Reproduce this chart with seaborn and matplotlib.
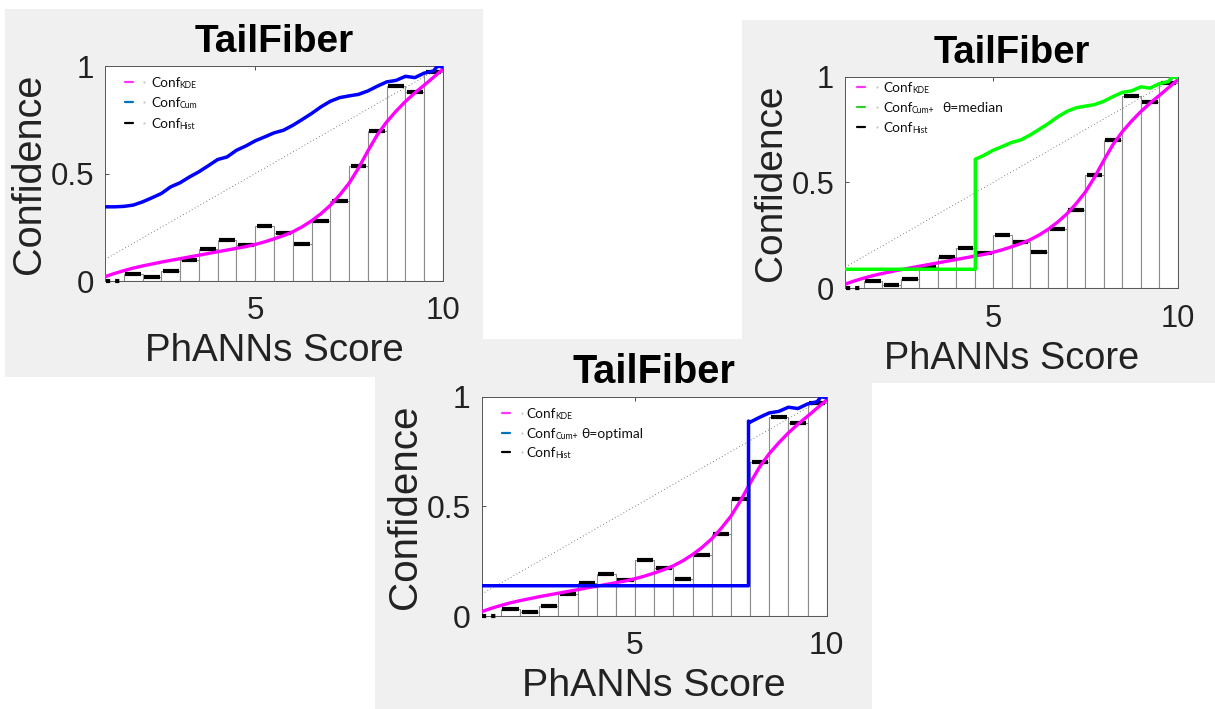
import numpy as np
import pandas as pd
import matplotlib
matplotlib.use("Agg")
import matplotlib.pyplot as plt
from matplotlib.patches import Rectangle
import seaborn as sns

# ---------------------------------------------------------------- data
# histogram of confidence per PhANNs-score bin (width 0.5, from 1 to 10)
bin_edges = np.arange(1.0, 10.001, 0.5)
hist_conf = [0.000, 0.033, 0.017, 0.046, 0.100, 0.150, 0.190, 0.166, 0.254,
             0.221, 0.170, 0.280, 0.372, 0.534, 0.700, 0.907, 0.881, 0.972]

# kernel-density based confidence
kde_score = [1.00, 1.25, 1.50, 1.75, 2.00, 2.25, 2.50, 2.75, 3.00, 3.25,
             3.50, 3.75, 4.00, 4.25, 4.50, 4.75, 5.00, 5.25, 5.50, 5.75,
             6.00, 6.25, 6.50, 6.75, 7.00, 7.25, 7.50, 7.75, 8.00, 8.25,
             8.50, 8.75, 9.00, 9.25, 9.50, 9.75, 10.00]
kde_conf = [0.020, 0.035, 0.048, 0.060, 0.070, 0.079, 0.088, 0.096, 0.104, 0.112,
            0.120, 0.128, 0.136, 0.144, 0.152, 0.160, 0.170, 0.182, 0.196, 0.211,
            0.229, 0.252, 0.280, 0.313, 0.352, 0.400, 0.455, 0.525, 0.605, 0.680,
            0.740, 0.790, 0.835, 0.875, 0.911, 0.948, 0.985]

# cumulative confidence
cum_score = [1.00, 1.25, 1.50, 1.75, 2.00, 2.25, 2.50, 2.75, 3.00, 3.25,
             3.50, 3.75, 4.00, 4.25, 4.50, 4.75, 5.00, 5.25, 5.50, 5.75,
             6.00, 6.25, 6.50, 6.75, 7.00, 7.25, 7.50, 7.75, 8.00, 8.25,
             8.50, 8.75, 9.00, 9.25, 9.50, 9.75, 9.85, 10.00]
cum_conf = [0.345, 0.345, 0.347, 0.353, 0.368, 0.387, 0.407, 0.438, 0.457, 0.484,
            0.508, 0.536, 0.565, 0.577, 0.608, 0.628, 0.652, 0.670, 0.689, 0.701,
            0.724, 0.751, 0.779, 0.810, 0.836, 0.853, 0.861, 0.868, 0.884, 0.906,
            0.926, 0.933, 0.952, 0.946, 0.967, 0.977, 1.000, 0.995]

# thresholded cumulative confidence (Conf_Cum+)
theta_median, below_median, jump_median = 4.52, 0.090, 0.610
theta_optimal, below_optimal, jump_optimal = 7.96, 0.138, 0.889

# ---------------------------------------------------------------- style
sns.set_style("ticks")
plt.rcParams["font.family"] = ["Liberation Sans", "DejaVu Sans"]

W, H = 1215, 709
BG = "#f0f0f0"
LEG_FONT = ["Lato", "DejaVu Sans"]
fig = plt.figure(figsize=(W / 100, H / 100), dpi=100)
fig.patch.set_facecolor("white")


def fig_box(x0, y0, x1, y1):
    return [x0 / W, 1 - y1 / H, (x1 - x0) / W, (y1 - y0) / H]


# grey window backgrounds
for x0, y0, x1, y1 in [(5, 9, 483, 377), (742, 20, 1215, 383), (375, 339, 872, 709)]:
    l, b, w, h = fig_box(x0, y0, x1, y1)
    fig.add_artist(Rectangle((l, b), w, h, transform=fig.transFigure,
                             facecolor=BG, edgecolor="none", zorder=0))


def cum_plus(theta, below, jump):
    xs = [1.0, theta, theta]
    ys = [below, below, jump]
    for s, c in zip(cum_score, cum_conf):
        if s > theta:
            xs.append(s)
            ys.append(c)
    return xs, ys


def draw_panel(box, mode):
    x0, y0, x1, y1 = box
    ax = fig.add_axes(fig_box(*box))
    ax.set_facecolor("white")
    s = (x1 - x0) / 338.0
    wpx, hpx = x1 - x0, y1 - y0

    lefts, rights = bin_edges[:-1], bin_edges[1:]
    hv = np.array(hist_conf)
    ax.bar(lefts, hv, width=rights - lefts, align="edge", color="white",
           edgecolor="#8c8c8c", linewidth=0.8, zorder=1)

    # calibration diagonal
    diag = np.array([1.0, 10.0])
    ax.plot(diag, diag / 10, color="#555555", lw=0.6,
            linestyle=(0, (1, 3)), zorder=2)

    # histogram confidence markers
    ax.hlines(hv[1:], lefts[1:] + 0.04, rights[1:] - 0.04, color="black",
              lw=3.0, zorder=3)
    ax.hlines(hv[:1], lefts[:1] + 0.02, rights[:1] - 0.05, color="black",
              lw=3.0, linestyle=(0, (1, 1.2)), zorder=3, clip_on=False)

    sns.lineplot(x=kde_score, y=kde_conf, ax=ax, color="#ff00ff", lw=2.4,
                 estimator=None, sort=False, zorder=4)

    if mode == "cum":
        sns.lineplot(x=cum_score, y=cum_conf, ax=ax, color="#0000ff", lw=2.5,
                     estimator=None, sort=False, zorder=5)
        entries = [("#ff33ff", "KDE", None), ("#0072bd", "Cum", None),
                   ("black", "Hist", None)]
        lx, dotx, tx, rows, ex = 20, 39, 46, [16, 36, 57], 0
    elif mode == "median":
        xs, ys = cum_plus(theta_median, below_median, jump_median)
        sns.lineplot(x=xs, y=ys, ax=ax, color="#00ff00", lw=2.5,
                     estimator=None, sort=False, zorder=5)
        entries = [("#ff33ff", "KDE", None), ("#33cc33", "Cum+", "θ=median"),
                   ("black", "Hist", None)]
        lx, dotx, tx, rows, ex = 12, 32, 38, [10, 30, 50], 97
    else:
        xs, ys = cum_plus(theta_optimal, below_optimal, jump_optimal)
        sns.lineplot(x=xs, y=ys, ax=ax, color="#0000ff", lw=2.5,
                     estimator=None, sort=False, zorder=5)
        entries = [("#ff33ff", "KDE", None), ("#0072bd", "Cum+", "θ=optimal"),
                   ("black", "Hist", None)]
        lx, dotx, tx, rows, ex = 20, 40, 45, [16, 36, 55], 100

    # legend, drawn in axes fractions
    for (col, sub, extra), ry in zip(entries, rows):
        fy = 1 - ry / hpx
        ax.plot([lx / wpx, (lx + 8) / wpx], [fy, fy], color=col, lw=1.6,
                transform=ax.transAxes, zorder=6, clip_on=False)
        ax.plot([dotx / wpx], [fy], marker="o", ms=1.6, color="#c8c8c8",
                mec="none", transform=ax.transAxes, zorder=6)
        main = ax.text(tx / wpx, 1 - (ry + 5) / hpx, "Conf",
                       transform=ax.transAxes, fontsize=9.8, family=LEG_FONT,
                       va="baseline", ha="left", color="#111111", zorder=6)
        ax.annotate(sub, xy=(1, 0), xycoords=main, xytext=(-0.6, 0.6),
                    textcoords="offset points", fontsize=6.2, family=LEG_FONT,
                    va="baseline", ha="left", color="#111111", zorder=6)
        if extra:
            ax.text(ex / wpx, 1 - (ry + 5) / hpx, extra, transform=ax.transAxes,
                    fontsize=10, family=LEG_FONT, va="baseline",
                    ha="left", color="#111111", zorder=6)

    ax.set_xlim(1, 10)
    ax.set_ylim(0, 1)
    ax.set_xticks([5, 10])
    ax.set_xticklabels(["5", "10"])
    ax.set_yticks([0, 0.5, 1])
    ax.set_yticklabels(["0", "0.5", "1"])
    ax.tick_params(axis="both", direction="in", length=3, width=0.6,
                   color="#333333", top=True, right=True,
                   labelsize=22.5 * s, labelcolor="#222222")
    ax.tick_params(axis="x", pad=11)
    ax.tick_params(axis="y", pad=8)
    for sp in ax.spines.values():
        sp.set_color("#555555")
        sp.set_linewidth(0.7)
        sp.set_visible(True)

    ax.set_title("TailFiber", fontsize=28 * s, fontweight="bold", pad=10,
                 color="black")
    ax.set_xlabel("PhANNs Score", fontsize=27.7 * s, labelpad=5, color="#222222")
    ax.set_ylabel("Confidence", fontsize=28.5 * s, labelpad=2, color="#222222")
    return ax


draw_panel((105, 66, 443, 281), "cum")
draw_panel((845.3, 76.7, 1177.7, 288.3), "median")
draw_panel((481.7, 396.7, 826.7, 616), "optimal")

fig.savefig("out.png", dpi=100, facecolor="white")
